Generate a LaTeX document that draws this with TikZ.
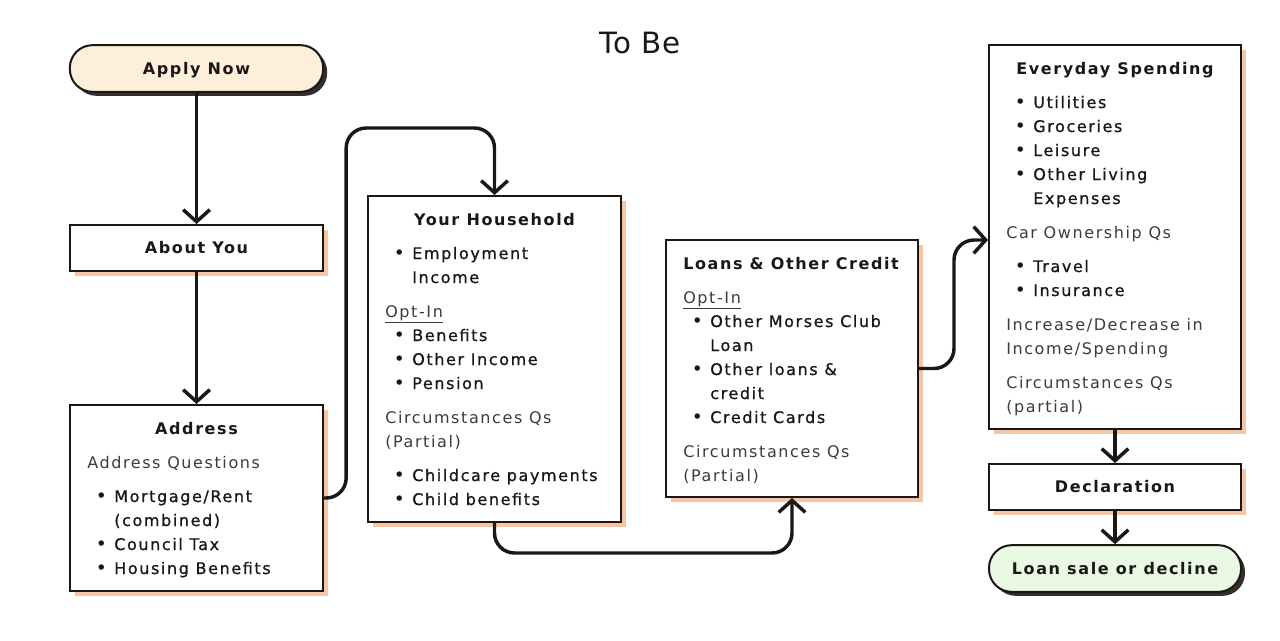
\documentclass[tikz,border=0pt]{standalone}
\usepackage{fontspec}
\setmainfont{DejaVu Sans}[LetterSpace=10]
\newfontfamily\medfont{DejaVu Sans}[LetterSpace=10, FakeBold=0.8]
\usetikzlibrary{arrows.meta,shadows}

\definecolor{ink}{HTML}{1C1717}
\definecolor{greytxt}{HTML}{403A3A}
\definecolor{peach}{HTML}{F6C6A4}
\definecolor{cream}{HTML}{FDEFD9}
\definecolor{mint}{HTML}{EAF9E3}

% list lines inside the boxes
\newcommand{\bitem}[1]{\hspace*{6.4pt}\makebox[13.85pt][l]{\raisebox{-0.4pt}{\fontsize{14}{18}\selectfont\textbullet}}{\medfont #1}}
\newcommand{\bcont}[1]{\hspace*{20.25pt}{\medfont #1}}
\newcommand{\qs}[1]{\textcolor{greytxt}{#1}}

\begin{document}
\begin{tikzpicture}[x=0.75pt,y=-0.75pt,
    box/.style={draw=ink, line width=1.5pt, fill=white, minimum width=190pt, inner sep=0pt,
        drop shadow={shadow xshift=3.75pt, shadow yshift=-3.75pt, fill=peach, opacity=1}},
    pill/.style={draw=ink, line width=1.5pt, rounded corners=17pt, minimum width=190pt, minimum height=35pt,
        drop shadow={shadow xshift=3pt, shadow yshift=-3pt, fill=ink!90, opacity=1}},
    one/.style={text=ink, text height=8.75pt, text depth=0pt, font=\bfseries\fontsize{12}{18}\selectfont},
    ttl/.style={anchor=base, inner sep=0pt, text=ink, font=\bfseries\fontsize{12}{18}\selectfont},
    txt/.style={anchor=base west, inner sep=0pt, text=ink, font=\fontsize{12}{18}\selectfont},
    flow/.style={draw=ink, line width=2.6pt, rounded corners=15pt, -{Straight Barb[length=9pt,width=20pt]}}]

    \useasboundingbox (0,0) rectangle (1280,640);

    \node (head) at (640,43) [text=ink, font=\fontsize{22}{26}\selectfont\addfontfeature{LetterSpace=4}] {To Be};

    \node (apply) at (196.5,68.5) [pill, fill=cream, one] {Apply Now};
    \node (about) at (196.5,248) [box, minimum height=34.5pt, one] {About You};

    % address
    \node (addr) at (196.5,498) [box, minimum height=139.5pt] {};
    \node (addr-t) at (196.5,434) [ttl] {Address};
    \node (addr-b) at (87,468) [txt] {\begin{tabular}[t]{@{}l@{}}
        \qs{Address Questions}\\[7.5pt]
        \bitem{Mortgage/Rent}\\
        \bcont{(combined)}\\
        \bitem{Council Tax}\\
        \bitem{Housing Benefits}
    \end{tabular}};

    % household
    \node (house) at (494.5,359) [box, minimum height=244.5pt] {};
    \node (house-t) at (494.5,225) [ttl] {Your Household};
    \node (house-b) at (385,259) [txt] {\begin{tabular}[t]{@{}l@{}}
        \bitem{Employment}\\
        \bcont{Income}\\[7.5pt]
        \qs{\underline{Opt-In}}\\
        \bitem{Benefits}\\
        \bitem{Other Income}\\
        \bitem{Pension}\\[7.5pt]
        \qs{Circumstances Qs}\\
        \qs{(Partial)}\\[7.5pt]
        \bitem{Childcare payments}\\
        \bitem{Child benefits}
    \end{tabular}};

    % loans
    \node (loans) at (792,368.5) [box, minimum width=189pt, minimum height=192.75pt] {};
    \node (loans-t) at (683,269) [ttl, anchor=base west] {Loans \& Other Credit};
    \node (loans-b) at (683,303) [txt] {\begin{tabular}[t]{@{}l@{}}
        \qs{\underline{Opt-In}}\\
        \bitem{Other Morses Club}\\
        \bcont{Loan}\\
        \bitem{Other loans \&}\\
        \bcont{credit}\\
        \bitem{Credit Cards}\\[7.5pt]
        \qs{Circumstances Qs}\\
        \qs{(Partial)}
    \end{tabular}};

    % spending
    \node (spend) at (1115,237) [box, minimum width=189pt, minimum height=288pt] {};
    \node (spend-t) at (1115,74) [ttl] {Everyday Spending};
    \node (spend-b) at (1006,108) [txt] {\begin{tabular}[t]{@{}l@{}}
        \bitem{Utilities}\\
        \bitem{Groceries}\\
        \bitem{Leisure}\\
        \bitem{Other Living}\\
        \bcont{Expenses}\\[7.5pt]
        \qs{Car Ownership Qs}\\[7.5pt]
        \bitem{Travel}\\
        \bitem{Insurance}\\[7.5pt]
        \qs{Increase/Decrease in}\\
        \qs{Income/Spending}\\[7.5pt]
        \qs{Circumstances Qs}\\
        \qs{(partial)}
    \end{tabular}};

    \node (decl) at (1115,487) [box, minimum width=189pt, minimum height=34.5pt, one] {Declaration};
    \node (sale) at (1115,568.5) [pill, minimum width=189pt, fill=mint, one] {Loan sale or decline};

    \draw[flow] (apply) -- (about);
    \draw[flow] (about) -- (addr);
    \draw[flow] (addr.east) -- ++(22,0) |- ([yshift=50.25pt]house.north) -- (house.north);
    \draw[flow] (house.south) -- ++(0,30) -| (loans.south);
    \draw[flow] (loans.east) -- ++(35,0) |- ([yshift=-2.25pt]spend.west);
    \draw[flow] (spend) -- (decl);
    \draw[flow] (decl) -- (sale);
\end{tikzpicture}
\end{document}
